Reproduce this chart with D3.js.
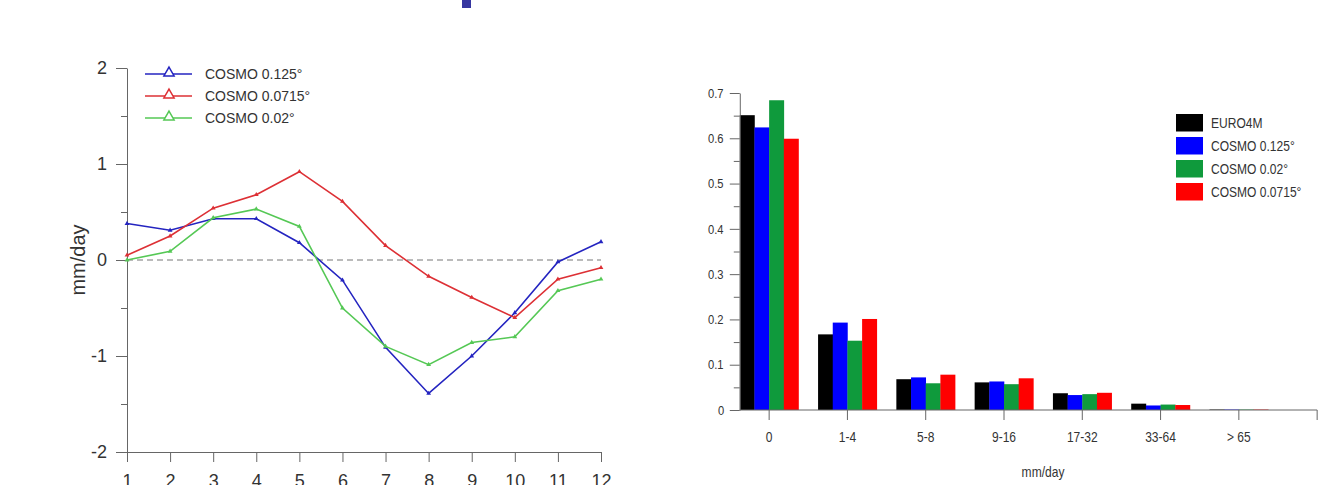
<!DOCTYPE html>
<html><head><meta charset="utf-8">
<script src="https://cdn.jsdelivr.net/npm/d3@7"></script>
<style>
body{margin:0;background:#fff;}
svg{display:block;}
.narrow text, text.narrow{font-family:"Liberation Sans Narrow","Arial Narrow","Liberation Sans",Arial,sans-serif;transform-box:fill-box;transform-origin:center;transform:scaleX(0.86);}
text.narrow.rot{transform:none;}
text.narrow.lft{transform-origin:left center;}
</style></head><body>
<svg id="c" width="1325" height="485"></svg>
<script>
// ---------- Left chart data ----------
const months = [1,2,3,4,5,6,7,8,9,10,11,12];
const lineSeriesNames = ["COSMO 0.125°","COSMO 0.0715°","COSMO 0.02°"];
const cosmo0125 = [0.38,0.31,0.43,0.43,0.18,-0.21,-0.91,-1.39,-1.00,-0.55,-0.02,0.19];
const cosmo00715 = [0.05,0.25,0.54,0.68,0.92,0.61,0.15,-0.17,-0.39,-0.60,-0.20,-0.08];
const cosmo002 = [0.00,0.09,0.44,0.53,0.35,-0.50,-0.90,-1.09,-0.86,-0.80,-0.32,-0.20];
const leftYTicks = [-2,-1,0,1,2];
const leftYMinor = [-1.5,-0.5,0.5,1.5];

// ---------- Right chart data ----------
const categories = ["0","1-4","5-8","9-16","17-32","33-64","> 65"];
const barSeriesNames = ["EURO4M","COSMO 0.125°","COSMO 0.02°","COSMO 0.0715°"];
const euro4m   = [0.651,0.167,0.068,0.061,0.037,0.014,0.001];
const bCosmo0125 = [0.624,0.193,0.072,0.063,0.033,0.010,0.001];
const bCosmo002  = [0.684,0.153,0.059,0.057,0.035,0.012,0.001];
const bCosmo00715= [0.599,0.201,0.078,0.070,0.038,0.011,0.001];
const rightYTicks = [0,0.1,0.2,0.3,0.4,0.5,0.6,0.7];
const rightYMinor = [0.05,0.15,0.25,0.35,0.45,0.55,0.65];

const svg = d3.select("#c");
const axisCol = "#666";
const textCol = "#333";

// decoration (cropped title fragment)
svg.append("rect").attr("x",462).attr("y",0).attr("width",9).attr("height",8).attr("fill","#3636a0");

// ================= LEFT =================
const xL = d3.scaleLinear().domain([1,12]).range([127,601]);
const yL = d3.scaleLinear().domain([-2,2]).range([452,68]);
const gL = svg.append("g");

function styleAxis(g){
  g.selectAll("path.domain").attr("stroke",axisCol);
  g.selectAll(".tick line").attr("stroke",axisCol);
  g.selectAll(".tick text").attr("fill",textCol);
}
// y axis
const ayL = gL.append("g").attr("transform",`translate(${xL(1)},0)`)
  .call(d3.axisLeft(yL).tickValues(leftYTicks).tickSize(11).tickPadding(9).tickSizeOuter(0).tickFormat(d=>String(d)));
ayL.selectAll("text").attr("font-family","Liberation Sans, Arial, sans-serif").attr("font-size",18);
styleAxis(ayL);
gL.append("g").attr("transform",`translate(${xL(1)},0)`)
  .call(d3.axisLeft(yL).tickValues(leftYMinor).tickSize(6).tickFormat("").tickSizeOuter(0))
  .call(g=>{g.select("path.domain").remove(); g.selectAll("line").attr("stroke",axisCol);});
// x axis
const axL = gL.append("g").attr("transform",`translate(0,${yL(-2)})`)
  .call(d3.axisBottom(xL).tickValues(months).tickSize(10).tickPadding(12).tickSizeOuter(0).tickFormat(d=>String(d)));
axL.selectAll("text").attr("font-family","Liberation Sans, Arial, sans-serif").attr("font-size",18);
styleAxis(axL);
// zero dashed line
gL.append("line").attr("x1",xL(1)).attr("x2",xL(12)).attr("y1",yL(0)).attr("y2",yL(0))
  .attr("stroke","#777").attr("stroke-dasharray","6,4").attr("stroke-width",1);
// y label
gL.append("text").attr("transform",`translate(85,${yL(0)}) rotate(-90)`)
  .attr("text-anchor","middle").attr("font-family","Liberation Sans, Arial, sans-serif")
  .attr("font-size",20).attr("fill",textCol).text("mm/day");

const lineColors = ["#2424c0","#dd3035","#55c855"];
const lineData = [cosmo0125, cosmo00715, cosmo002];
const lineGen = d3.line().x((d,i)=>xL(months[i])).y(d=>yL(d));
const tri = d3.symbol().type(d3.symbolTriangle);
lineData.forEach((s,k)=>{
  gL.append("path").attr("d",lineGen(s)).attr("fill","none").attr("stroke",lineColors[k]).attr("stroke-width",1.6);
  gL.selectAll(null).data(s).enter().append("path")
    .attr("d",tri.size(10)()).attr("transform",(d,i)=>`translate(${xL(months[i])},${yL(d)})`)
    .attr("fill",lineColors[k]);
});
// legend
const legL = gL.append("g");
lineSeriesNames.forEach((n,k)=>{
  const y = 74 + k*22;
  legL.append("line").attr("x1",145).attr("x2",192).attr("y1",y).attr("y2",y).attr("stroke",lineColors[k]).attr("stroke-width",1.6);
  legL.append("path").attr("d",tri.size(45)()).attr("transform",`translate(169,${y-1})`)
    .attr("fill","#fff").attr("stroke",lineColors[k]).attr("stroke-width",1.5);
  legL.append("text").attr("x",205).attr("y",y).attr("dy","0.35em")
    .attr("font-family","Liberation Sans, Arial, sans-serif").attr("font-size",14).attr("fill",textCol).text(n);
});

// ================= RIGHT =================
const xR = d3.scaleBand().domain(categories).range([730,1278]).paddingInner(0.25).paddingOuter(0.125);
const xSub = d3.scaleBand().domain(barSeriesNames).range([0,xR.bandwidth()]);
const yR = d3.scaleLinear().domain([0,0.7]).range([410,93]);
const gR = svg.append("g");
const barColors = ["#000000","#0000ff","#0f9a3c","#ff0000"];
const barData = [euro4m,bCosmo0125,bCosmo002,bCosmo00715];
const axisX0 = xR(categories[0]);
const axisXEnd = xR(categories[categories.length-1]) + xR.bandwidth()/2 + xR.step();

barData.forEach((s,k)=>{
  gR.selectAll(null).data(s).enter().append("rect")
    .attr("x",(d,i)=>xR(categories[i])+xSub(barSeriesNames[k]))
    .attr("width",xSub.bandwidth()+0.3)
    .attr("y",d=>yR(d)).attr("height",d=>yR(0)-yR(d))
    .attr("fill",barColors[k]);
});
// y axis
const ayR = gR.append("g").attr("class","narrow").attr("transform",`translate(${axisX0},0)`)
  .call(d3.axisLeft(yR).tickValues(rightYTicks).tickSize(10).tickPadding(5).tickSizeOuter(0)
    .tickFormat(d=>d===0?"0":d.toFixed(1)));
ayR.selectAll("text").attr("font-size",13).attr("font-family",null);
styleAxis(ayR);
gR.append("g").attr("transform",`translate(${axisX0},0)`)
  .call(d3.axisLeft(yR).tickValues(rightYMinor).tickSize(6).tickFormat("").tickSizeOuter(0))
  .call(g=>{g.select("path.domain").remove(); g.selectAll("line").attr("stroke",axisCol);});
// x axis
const axR = gR.append("g").attr("class","narrow").attr("transform",`translate(0,${yR(0)})`)
  .call(d3.axisBottom(xR).tickSize(10).tickPadding(12).tickSizeOuter(0));
axR.select("path.domain").remove();
axR.selectAll("text").attr("font-size",14).attr("font-family",null);
styleAxis(axR);
axR.append("line").attr("x1",axisX0).attr("x2",axisXEnd).attr("y1",0).attr("y2",0).attr("stroke",axisCol);
axR.append("line").attr("x1",axisXEnd).attr("x2",axisXEnd).attr("y1",0).attr("y2",10).attr("stroke",axisCol);
// labels
gR.append("text").attr("class","narrow rot").attr("transform",`translate(687,255) rotate(-90)`)
  .attr("text-anchor","middle").attr("font-size",13).attr("fill",textCol).text("PDF");
gR.append("text").attr("class","narrow").attr("x",1043).attr("y",477)
  .attr("text-anchor","middle").attr("font-size",14).attr("fill",textCol).text("mm/day");
// legend
barSeriesNames.forEach((n,k)=>{
  const y = 114 + k*23;
  gR.append("rect").attr("x",1176).attr("y",y).attr("width",27).attr("height",17.5).attr("fill",barColors[k]);
  gR.append("text").attr("class","narrow lft").attr("x",1211).attr("y",y+9).attr("dy","0.35em")
    .attr("font-size",14).attr("fill",textCol).text(n);
});
</script>
</body></html>
